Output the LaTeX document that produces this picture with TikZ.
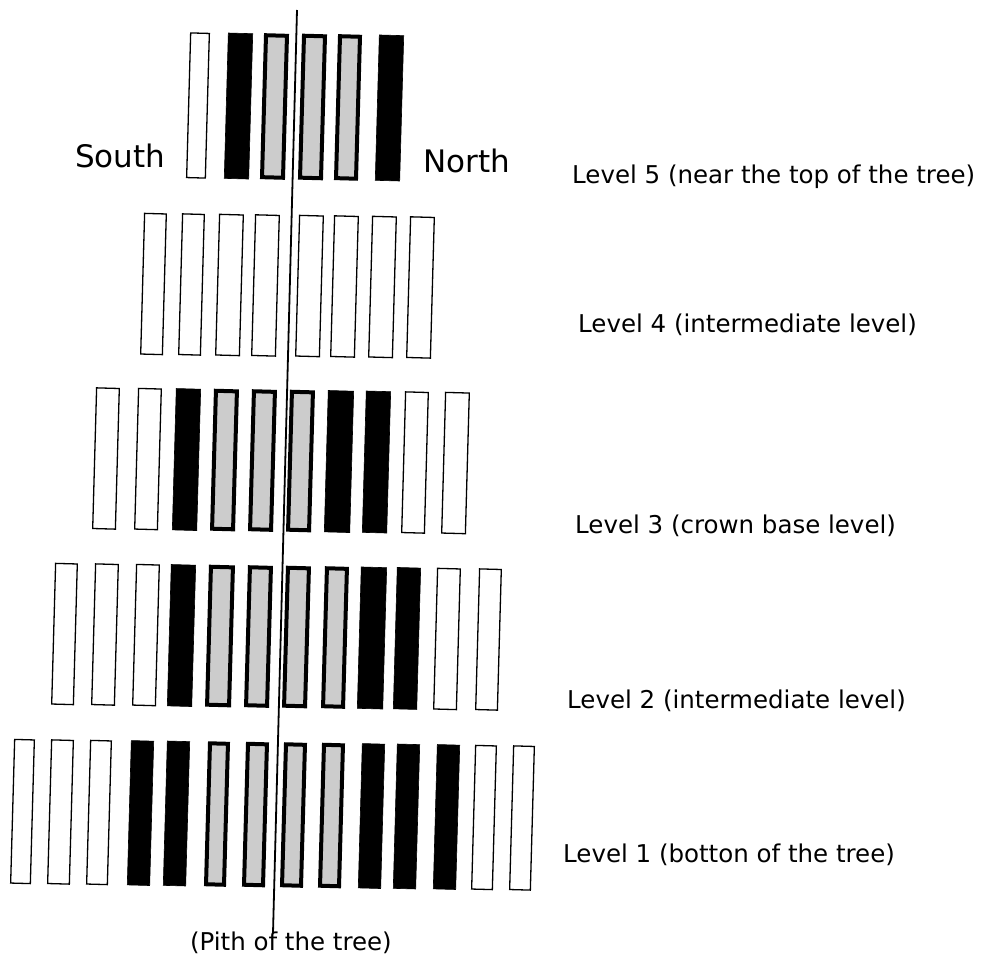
\documentclass[tikz,border=0pt]{standalone}
\usepackage{fontspec}
\setmainfont{DejaVu Sans}
\newcommand{\mybar}[5]{% style, line width, name, x1, x2
  \pgfmathsetmacro\bxc{(#4+#5)/2}%
  \pgfmathsetmacro\bw{#5-#4-#2}%
  \pgfmathsetmacro\bh{\hL-#2}%
  \pgfmathsetmacro\byc{\yL+0.013*(\bxc-\xL)}%
  \node[#1, minimum width=\bw pt, minimum height=\bh pt] (#3) at (\bxc,\byc) {};}
\begin{document}
\begin{tikzpicture}[x=1pt,y=-1pt,
  bar/.style={rectangle, inner sep=0pt, outer sep=0pt, rotate=-1.6},
  wbar/.style={bar, draw=black, fill=white, line width=1.3pt},
  bbar/.style={bar, draw=black, fill=black, line width=0.6pt},
  gbar/.style={bar, draw=black, fill=gray!40, line width=4pt},
  pith/.style={line width=1.8pt, black},
  dir/.style={font=\fontsize{31}{36}\selectfont, inner sep=0pt, anchor=base west},
  lab/.style={font=\fontsize{24.5}{29}\selectfont, inner sep=0pt, anchor=base west}]
\useasboundingbox (0,0) rectangle (983,958);
% Level 5
\def\xL{198}\def\yL{105.5}\def\hL{146}
\mybar{wbar}{1.3}{a1}{188}{208}
\mybar{bbar}{0.6}{a2}{226}{251}
\mybar{gbar}{4}{a3}{262}{287}
\mybar{gbar}{4}{a4}{300}{325}
\mybar{gbar}{4}{a5}{336}{360}
\mybar{bbar}{0.6}{a6}{377}{402}
% Level 4
\def\xL{153.5}\def\yL{284}\def\hL{142}
\mybar{wbar}{1.3}{b1}{142}{165}
\mybar{wbar}{1.3}{b2}{180}{203}
\mybar{wbar}{1.3}{b3}{217}{242}
\mybar{wbar}{1.3}{b4}{253}{278}
\mybar{wbar}{1.3}{b5}{297}{322}
\mybar{wbar}{1.3}{b6}{332}{357}
\mybar{wbar}{1.3}{b7}{370}{395}
\mybar{wbar}{1.3}{b8}{408}{433}
% Level 3
\def\xL{106}\def\yL{458.5}\def\hL{142}
\mybar{wbar}{1.3}{c1}{94}{118}
\mybar{wbar}{1.3}{c2}{136}{160}
\mybar{bbar}{0.6}{c3}{174}{199}
\mybar{gbar}{4}{c4}{212}{237}
\mybar{gbar}{4}{c5}{250}{275}
\mybar{gbar}{4}{c6}{288}{313}
\mybar{bbar}{0.6}{c7}{326}{352}
\mybar{bbar}{0.6}{c8}{364}{389}
\mybar{wbar}{1.3}{c9}{403}{427}
\mybar{wbar}{1.3}{c10}{443}{468}
% Level 2
\def\xL{64.5}\def\yL{634}\def\hL{142}
\mybar{wbar}{1.3}{d1}{53}{76}
\mybar{wbar}{1.3}{d2}{93}{117}
\mybar{wbar}{1.3}{d3}{134}{158}
\mybar{bbar}{0.6}{d4}{169}{194}
\mybar{gbar}{4}{d5}{207}{233}
\mybar{gbar}{4}{d6}{246}{271}
\mybar{gbar}{4}{d7}{284}{309}
\mybar{gbar}{4}{d8}{323}{347}
\mybar{bbar}{0.6}{d9}{359}{385}
\mybar{bbar}{0.6}{d10}{395}{419}
\mybar{wbar}{1.3}{d11}{435}{459}
\mybar{wbar}{1.3}{d12}{477}{500}
% Level 1
\def\xL{22.5}\def\yL{811.5}\def\hL{145}
\mybar{wbar}{1.3}{e1}{12}{33}
\mybar{wbar}{1.3}{e2}{49}{72}
\mybar{wbar}{1.3}{e3}{88}{110}
\mybar{bbar}{0.6}{e4}{129}{152}
\mybar{bbar}{0.6}{e5}{165}{188}
\mybar{gbar}{4}{e6}{206}{228}
\mybar{gbar}{4}{e7}{244}{267}
\mybar{gbar}{4}{e8}{282}{305}
\mybar{gbar}{4}{e9}{320}{343}
\mybar{bbar}{0.6}{e10}{360}{383}
\mybar{bbar}{0.6}{e11}{395}{418}
\mybar{bbar}{0.6}{e12}{435}{458}
\mybar{wbar}{1.3}{e13}{473}{495}
\mybar{wbar}{1.3}{e14}{511}{533}
% pith line
\coordinate (pithtop) at (297,10);
\coordinate (pithbot) at (273,933);
\draw[pith] (pithtop) -- (pithbot);
% texts
\node[dir] (south) at (75,167) {South};
\node[dir] (north) at (423,172) {North};
\node[lab] (lev5) at (572,183) {Level 5 (near the top of the tree)};
\node[lab] (lev4) at (578,332) {Level 4 (intermediate level)};
\node[lab] (lev3) at (575,533) {Level 3 (crown base level)};
\node[lab] (lev2) at (567,708) {Level 2 (intermediate level)};
\node[lab] (lev1) at (563,862) {Level 1 (botton of the tree)};
\node[lab, anchor=base east] (pithlab) at (392,950) {(Pith of the tree)};
\end{tikzpicture}
\end{document}
